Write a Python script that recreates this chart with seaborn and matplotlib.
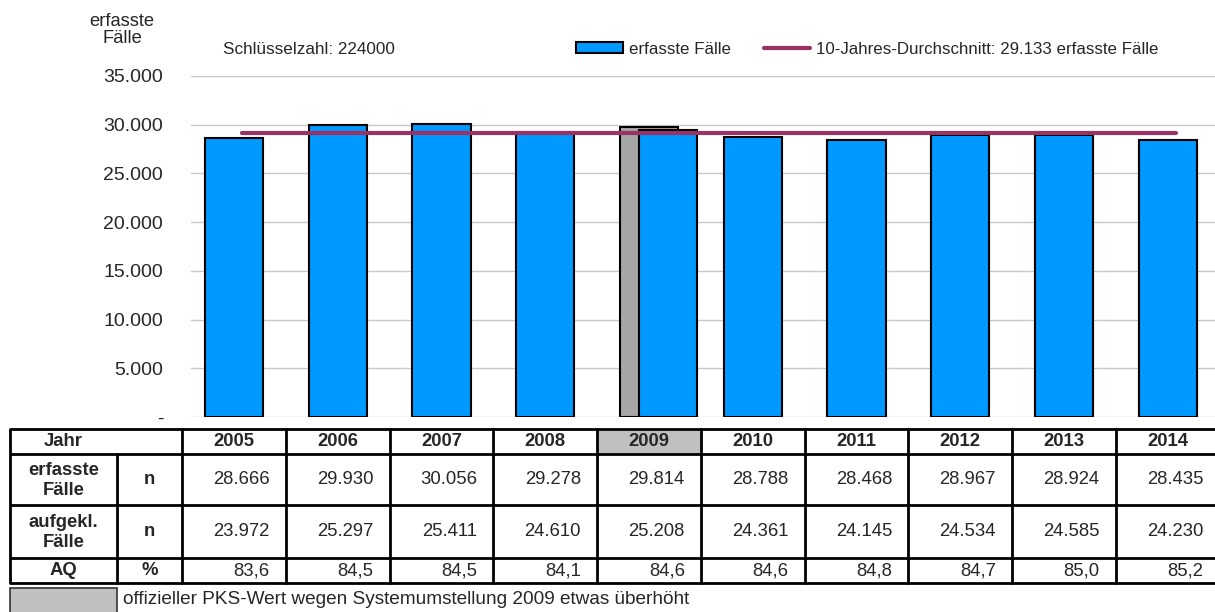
"""PKS Schluesselzahl 224000: erfasste Faelle 2005-2014 mit Tabelle darunter."""
import matplotlib
matplotlib.use("Agg")
import matplotlib.pyplot as plt
import matplotlib.patches as mpatches
import matplotlib.lines as mlines
import numpy as np
import pandas as pd
import seaborn as sns

years = ["2005", "2006", "2007", "2008", "2009", "2010", "2011", "2012", "2013", "2014"]
erfasst = [28666, 29930, 30056, 29278, 29814, 28788, 28468, 28967, 28924, 28435]
# 2009 ohne Ueberhoehung durch die Systemumstellung
erfasst_bereinigt_2009 = 29450
aufgeklaert = [23972, 25297, 25411, 24610, 25208, 24361, 24145, 24534, 24585, 24230]
aq = [83.6, 84.5, 84.5, 84.1, 84.6, 84.6, 84.8, 84.7, 85.0, 85.2]
durchschnitt = 29133
yticks = [0, 5000, 10000, 15000, 20000, 25000, 30000, 35000]

BLUE = "#0099FF"
BAR_GREY = "#A6A6A6"
CELL_GREY = "#C0C0C0"
PLUM = "#993366"
W, H = 1215, 612


def fmt_de(v):
    return f"{v:,.0f}".replace(",", ".")


sns.set_style("white")
plt.rcParams["font.family"] = ["Liberation Sans", "DejaVu Sans"]

fig = plt.figure(figsize=(W / 100, H / 100), dpi=100)

# Hauptdiagramm (Achsen in Pixelgrenzen der Vorlage)
ax_l, ax_r, ax_t, ax_b = 191, 1215, 76, 417
ax = fig.add_axes([ax_l / W, 1 - ax_b / H, (ax_r - ax_l) / W, (ax_b - ax_t) / H])

blue_vals = list(erfasst)
blue_vals[4] = erfasst_bereinigt_2009
df = pd.DataFrame({"Jahr": years, "erfasst": blue_vals})

pos = np.arange(len(years))
ax.bar(pos[4], erfasst[4], width=0.56, color=BAR_GREY, edgecolor="black", linewidth=1.5, zorder=2)
sns.barplot(data=df, x="Jahr", y="erfasst", color=BLUE, edgecolor="black", linewidth=1.5,
            width=0.56, saturation=1, ax=ax, zorder=3)
# bereinigter 2009-Balken leicht nach rechts versetzt
bars = [p for p in ax.patches if p.get_facecolor()[2] > 0.9]
bars[4].set_x(bars[4].get_x() + 0.18)

ax.plot(pos + 0.08, [durchschnitt] * len(years), color=PLUM, linewidth=3, zorder=4)

ax.set_xlim((ax_l - 234) / 103.75, (ax_r - 234) / 103.75)
ax.set_ylim(0, 35000)
ax.set_yticks(yticks)
ax.set_yticklabels(["-"] + [fmt_de(v) for v in yticks[1:]], fontsize=14)
ax.tick_params(axis="y", length=0, pad=20)
ax.set_xticks([])
ax.set_xlabel("")
ax.set_ylabel("")
ax.grid(axis="y", color="#C8C8C8", linewidth=1, zorder=0)
ax.set_axisbelow(True)
for s in ax.spines.values():
    s.set_visible(False)

handles = [
    mpatches.Patch(facecolor=BLUE, edgecolor="black", linewidth=1.5, label="erfasste Fälle"),
    mlines.Line2D([], [], color=PLUM, linewidth=3,
                  label=f"10-Jahres-Durchschnitt: {fmt_de(durchschnitt)} erfasste Fälle"),
]
fig.legend(handles=handles, loc="center left", bbox_to_anchor=(576 / W, 1 - 49 / H), ncol=2,
           frameon=False, fontsize=12.2, handlelength=2.75, handleheight=0.55,
           handletextpad=0.35, columnspacing=1.95, borderpad=0, borderaxespad=0)

# Pixel-Overlay fuer Beschriftungen und Tabelle
ov = fig.add_axes([0, 0, 1, 1], zorder=10)
ov.set_xlim(0, W)
ov.set_ylim(H, 0)
ov.axis("off")
ov.patch.set_alpha(0)

ov.text(122, 30, "erfasste\nFälle", ha="center", va="center", fontsize=13.2, linespacing=1.05)
ov.text(223, 50, "Schlüsselzahl: 224000", ha="left", va="center", fontsize=12.3)

# Tabelle
col0, col1, col2, cw = 10, 117, 182, 103.75
rows_y = [429, 454, 505, 558, 583]
lw = 2
ov.add_patch(mpatches.Rectangle((col2 + 4 * cw, rows_y[0]), cw, rows_y[1] - rows_y[0],
                                facecolor=CELL_GREY, edgecolor="none"))
right = col2 + len(years) * cw
for y in rows_y:
    ov.plot([col0, right], [y, y], color="black", linewidth=lw, solid_capstyle="butt")
ov.plot([col0, col0], [rows_y[0], rows_y[-1]], color="black", linewidth=lw)
ov.plot([col1, col1], [rows_y[1], rows_y[-1]], color="black", linewidth=lw)
for i in range(len(years) + 1):
    x = col2 + i * cw
    ov.plot([x, x], [rows_y[0], rows_y[-1]], color="black", linewidth=lw)

mid = [(rows_y[i] + rows_y[i + 1]) / 2 for i in range(4)]
fs = 13.3
ov.text((col0 + col1) / 2, mid[0], "Jahr", ha="center", va="center", fontsize=fs, fontweight="bold")
ov.text((col0 + col1) / 2, mid[1] + 1, "erfasste\nFälle", ha="center", va="center", fontsize=fs,
        fontweight="bold", linespacing=1.3)
ov.text((col0 + col1) / 2, mid[2] + 1, "aufgekl.\nFälle", ha="center", va="center", fontsize=fs,
        fontweight="bold", linespacing=1.3)
ov.text((col0 + col1) / 2, mid[3], "AQ", ha="center", va="center", fontsize=fs, fontweight="bold")
for r, lab in zip([1, 2, 3], ["n", "n", "%"]):
    ov.text((col1 + col2) / 2, mid[r], lab, ha="center", va="center", fontsize=fs, fontweight="bold")

for i, yr in enumerate(years):
    x0 = col2 + i * cw
    ov.text(x0 + cw / 2, mid[0], yr, ha="center", va="center", fontsize=fs, fontweight="bold")
    ov.text(x0 + cw - 16, mid[1], fmt_de(erfasst[i]), ha="right", va="center", fontsize=fs)
    ov.text(x0 + cw - 16, mid[2], fmt_de(aufgeklaert[i]), ha="right", va="center", fontsize=fs)
    ov.text(x0 + cw - 16, mid[3] + 1, f"{aq[i]:.1f}".replace(".", ","), ha="right", va="center",
            fontsize=fs)

ov.add_patch(mpatches.Rectangle((col0, 588), col1 - col0, 30, facecolor=CELL_GREY,
                                edgecolor="#333333", linewidth=1.2))
ov.text(123, 600, "offizieller PKS-Wert wegen Systemumstellung 2009 etwas überhöht",
        ha="left", va="center", fontsize=13.7)

fig.savefig("out.png", dpi=100)
